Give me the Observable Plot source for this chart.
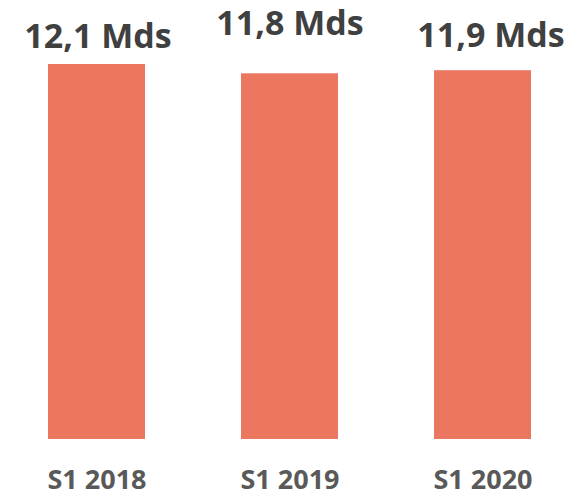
<!DOCTYPE html>
<html>
<head>
<meta charset="utf-8">
<script src="https://cdn.jsdelivr.net/npm/d3@7"></script>
<script src="https://cdn.jsdelivr.net/npm/@observablehq/plot@0.6"></script>
<style>
  html, body { margin: 0; padding: 0; background: #ffffff; }
  #chart svg { display: block; overflow: visible; }
</style>
</head>
<body>
<div id="chart"></div>
<script>
const periods = ["S1 2018", "S1 2019", "S1 2020"];
const values = [12.1, 11.8, 11.9];
const valueLabels = ["12,1 Mds", "11,8 Mds", "11,9 Mds"];

const data = periods.map((p, i) => ({period: p, value: values[i], label: valueLabels[i]}));

const font = "'Open Sans', 'Liberation Sans', sans-serif";
const labelMark = (i, dx, dy) => Plot.text(data.filter((d, j) => j === i), {
  x: "period", y: "value", text: "label",
  lineAnchor: "bottom", dx, dy,
  fontSize: 34, fontWeight: "bold", fill: "#404040", fontFamily: font
});

const chart = Plot.plot({
  width: 578,
  height: 497,
  marginLeft: 0,
  marginRight: 0,
  marginTop: 64,
  marginBottom: 58,
  style: {fontFamily: font, background: "#ffffff"},
  x: {domain: periods, paddingInner: 0.5, paddingOuter: 0.245, label: null},
  y: {domain: [0, 12.1], axis: null},
  marks: [
    Plot.barY(data, {x: "period", y: "value", fill: "#EC7761"}),
    labelMark(0, 1, -17),
    labelMark(1, 0, -39),
    labelMark(2, 8, -24),
    Plot.axisX({tickSize: 0, tickPadding: 30, fontSize: 27, fontWeight: "bold", fill: "#595959", label: null})
  ]
});
document.getElementById("chart").appendChild(chart);
</script>
</body>
</html>
